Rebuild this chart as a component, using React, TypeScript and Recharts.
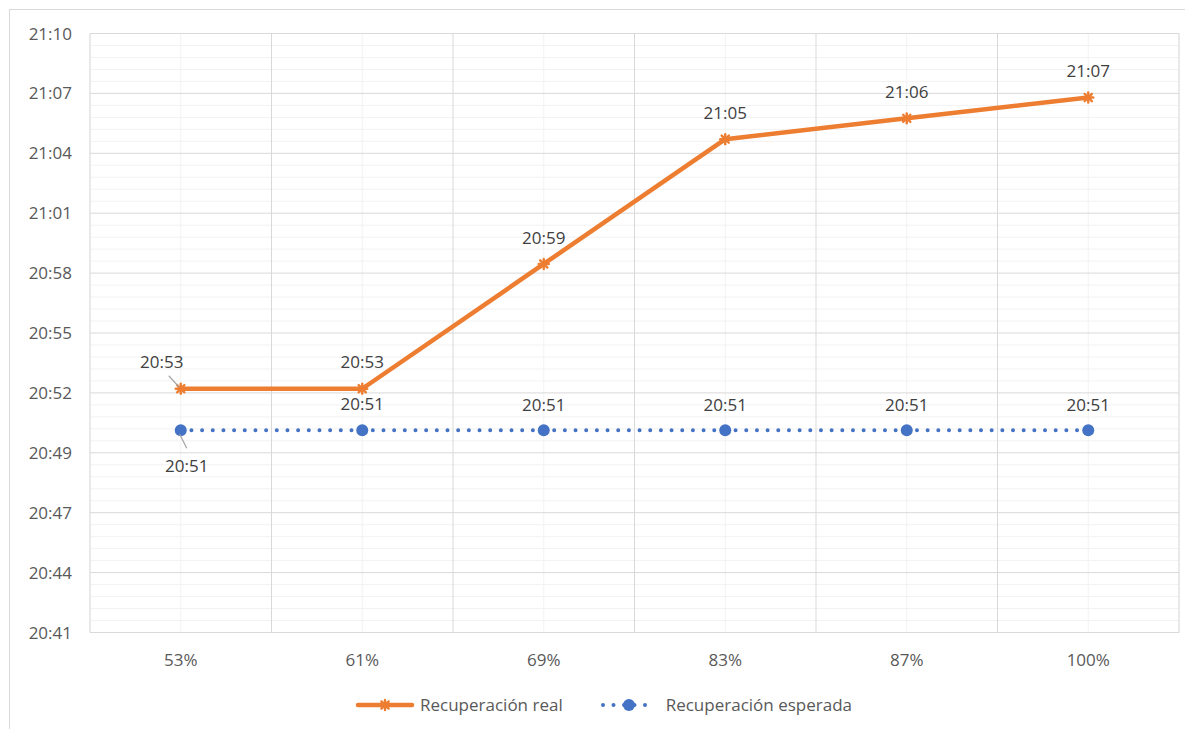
import { LineChart, Line, XAxis, YAxis, CartesianGrid, Legend, LabelList } from "recharts";

const CATEGORIES = ["53%", "61%", "69%", "83%", "87%", "100%"];
const REAL = ["20:53", "20:53", "20:59", "21:05", "21:06", "21:07"];
const EXPECTED = ["20:51", "20:51", "20:51", "20:51", "20:51", "20:51"];

// y axis ticks in minutes since midnight (Excel time axis, step 0.002 day)
const Y_TICKS = [1241.28, 1244.16, 1247.04, 1249.92, 1252.8, 1255.68, 1258.56, 1261.44, 1264.32, 1267.2, 1270.08];
const X_BOUNDS = [0, 1, 2, 3, 4, 5, 6];

const ORANGE = "#ED7D31";
const BLUE = "#4472C4";
const FONT = "'Open Sans', sans-serif";

const toMinutes = (s: string) => {
  const [h, m] = s.split(":").map(Number);
  return h * 60 + m;
};

// Excel h:mm truncates seconds
const fmtTime = (v: number) => {
  const t = Math.floor(v + 1e-6);
  const h = Math.floor(t / 60);
  const m = t % 60;
  return `${h}:${String(m).padStart(2, "0")}`;
};

const data = CATEGORIES.map((cat, i) => ({
  cat,
  idx: i + 0.5,
  real: toMinutes(REAL[i]),
  expected: toMinutes(EXPECTED[i]),
}));

const X_CENTERS = data.map((d) => d.idx);
const Y_MINOR = Y_TICKS.slice(0, -1).flatMap((t, i) =>
  [1, 2, 3, 4].map((k) => t + ((Y_TICKS[i + 1] - t) * k) / 5)
);

// label nudges relative to each point (style only)
const REAL_LABEL = [
  { dx: -19, dy: -27, leader: [-12, -13, -2, -2] },
  { dx: 0, dy: -27 },
  { dx: 0, dy: -26 },
  { dx: 0, dy: -27 },
  { dx: 0, dy: -27 },
  { dx: 0, dy: -27 },
];
const EXP_LABEL = [
  { dx: 6, dy: 35, leader: [-1, 4, 6, 18] },
  { dx: 0, dy: -27 },
  { dx: 0, dy: -26 },
  { dx: 0, dy: -26 },
  { dx: 0, dy: -26 },
  { dx: 0, dy: -26 },
];

function makeLabel(nudges: { dx: number; dy: number; leader?: number[] }[]) {
  return (props: any) => {
    const { x, y, value, index } = props;
    const n = nudges[index] ?? { dx: 0, dy: -27 };
    return (
      <g>
        {n.leader && (
          <line
            x1={x + n.leader[0]}
            y1={y + n.leader[1]}
            x2={x + n.leader[2]}
            y2={y + n.leader[3]}
            stroke="#a6a6a6"
            strokeWidth={1.2}
          />
        )}
        <text
          x={x + n.dx}
          y={y + n.dy}
          textAnchor="middle"
          dominantBaseline="central"
          fontSize={17}
          fontFamily={FONT}
          fill="#404040"
        >
          {fmtTime(value)}
        </text>
      </g>
    );
  };
}

function Star({ cx, cy, r = 5 }: { cx: number; cy: number; r?: number }) {
  const d = r * 0.72;
  return (
    <g stroke={ORANGE} strokeWidth={2.4} strokeLinecap="round">
      <line x1={cx - r} y1={cy} x2={cx + r} y2={cy} />
      <line x1={cx} y1={cy - r} x2={cx} y2={cy + r} />
      <line x1={cx - d} y1={cy - d} x2={cx + d} y2={cy + d} />
      <line x1={cx - d} y1={cy + d} x2={cx + d} y2={cy - d} />
    </g>
  );
}

const StarDot = (props: any) => {
  const { cx, cy } = props;
  if (cx == null || cy == null) return null;
  return <Star cx={cx} cy={cy} />;
};

function LegendContent() {
  return (
    <div
      style={{
        display: "flex",
        justifyContent: "center",
        alignItems: "center",
        gap: 38,
        fontFamily: FONT,
        fontSize: 17,
        color: "#595959",
      }}
    >
      <div style={{ display: "flex", alignItems: "center" }}>
        <svg width={60} height={20}>
          <line x1={3} y1={10} x2={57} y2={10} stroke={ORANGE} strokeWidth={4.5} strokeLinecap="round" />
          <Star cx={30} cy={10} />
        </svg>
        <span style={{ marginLeft: 5 }}>Recuperación real</span>
      </div>
      <div style={{ display: "flex", alignItems: "center" }}>
        <svg width={56} height={20}>
          <line
            x1={2}
            y1={10}
            x2={54}
            y2={10}
            stroke={BLUE}
            strokeWidth={4}
            strokeDasharray="0 10.5"
            strokeLinecap="round"
          />
          <circle cx={28} cy={10} r={6} fill={BLUE} />
        </svg>
        <span style={{ marginLeft: 9 }}>Recuperación esperada</span>
      </div>
    </div>
  );
}

export default function App() {
  return (
    <div
      style={{
        marginLeft: 1,
        marginTop: 1,
        width: 1183,
        height: 719,
        borderTop: "1px solid #d9d9d9",
        borderLeft: "1px solid #d9d9d9",
        position: "relative",
        background: "#fff",
      }}
    >
      <style>{"html,body{overflow:hidden}"}</style>
      <LineChart
        width={1183}
        height={719}
        data={data}
        margin={{ top: 23.5, right: 14, bottom: 56.5, left: 0 }}
        style={{ fontFamily: FONT }}
      >
        <XAxis
          xAxisId="x"
          type="number"
          dataKey="idx"
          domain={[0, 6]}
          ticks={X_CENTERS}
          interval={0}
          allowDataOverflow
          tickFormatter={(v: number) => CATEGORIES[Math.floor(v)]}
          axisLine={false}
          tickLine={false}
          tickSize={0}
          tickMargin={21}
          height={40}
          tick={{ fill: "#595959", fontSize: 17 }}
        />
        <YAxis
          yAxisId="t"
          type="number"
          domain={[Y_TICKS[0], Y_TICKS[Y_TICKS.length - 1]]}
          ticks={Y_TICKS}
          interval={0}
          allowDataOverflow
          tickFormatter={fmtTime}
          axisLine={false}
          tickLine={false}
          tickSize={0}
          tickMargin={18}
          width={80}
          tick={{ fill: "#595959", fontSize: 17 }}
        />
        <XAxis
          xAxisId="xb"
          type="number"
          dataKey="idx"
          orientation="top"
          height={0}
          domain={[0, 6]}
          ticks={X_BOUNDS}
          allowDataOverflow
          hide
        />
        <YAxis
          yAxisId="minor"
          type="number"
          orientation="right"
          width={0}
          domain={[Y_TICKS[0], Y_TICKS[Y_TICKS.length - 1]]}
          ticks={Y_MINOR}
          interval={0}
          allowDataOverflow
          hide
        />
        <CartesianGrid xAxisId="x" yAxisId="minor" stroke="#f2f2f2" strokeWidth={1} />
        <CartesianGrid xAxisId="xb" yAxisId="t" stroke="#d9d9d9" strokeWidth={1} />
        <Legend
          verticalAlign="middle"
          layout="horizontal"
          content={<LegendContent />}
          wrapperStyle={{ top: 683, left: 2, width: 1183 }}
        />
        <Line
          xAxisId="x"
          yAxisId="t"
          dataKey="expected"
          name="Recuperación esperada"
          stroke={BLUE}
          strokeWidth={4}
          strokeDasharray="0 10.67"
          strokeLinecap="round"
          dot={{ r: 6, fill: BLUE, stroke: "none", strokeDasharray: "none" }}
          activeDot={false}
          isAnimationActive={false}
        >
          <LabelList dataKey="expected" content={makeLabel(EXP_LABEL)} />
        </Line>
        <Line
          xAxisId="x"
          yAxisId="t"
          dataKey="real"
          name="Recuperación real"
          stroke={ORANGE}
          strokeWidth={4.5}
          strokeLinejoin="round"
          strokeLinecap="round"
          dot={<StarDot />}
          activeDot={false}
          isAnimationActive={false}
        >
          <LabelList dataKey="real" content={makeLabel(REAL_LABEL)} />
        </Line>
      </LineChart>
    </div>
  );
}
